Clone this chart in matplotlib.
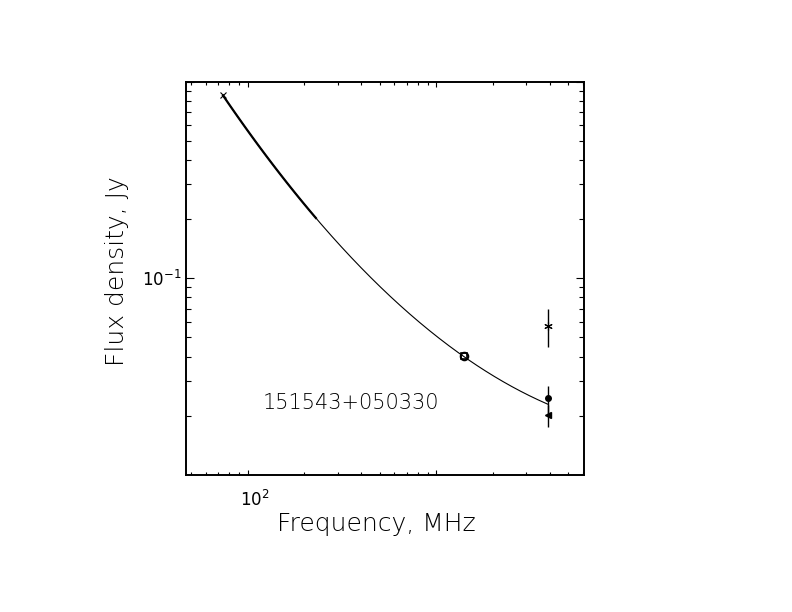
import numpy as np
import matplotlib.pyplot as plt
import matplotlib.transforms as mtransforms
from matplotlib.ticker import LogLocator, NullFormatter, FixedLocator, FixedFormatter

# ---- data ----
source_name = "151543+050330"

freq_x = [74.0]            # MHz, 'x' marker
flux_x = [0.85]            # Jy

freq_1400 = [1400.0]       # two overlapping open symbols
flux_1400 = [0.0404]

freq_star = [3900.0]
flux_star = [0.0572]
err_star = [0.0125]

freq_dot = [3900.0]
flux_dot = [0.0245]
err_dot = [0.0040]

freq_tri = [3900.0]
flux_tri = [0.0201]
err_tri = [0.0025]

# quadratic fit in log-log space: log S = c2*(log nu)^2 + c1*log nu + c0
fit_coef = [0.2877, -2.4823, 3.5639]
fit_range = [74.0, 3900.0]
fit_thick_range = [74.0, 230.0]

x_lim = [47.1, 6070.0]
y_lim = [0.01, 1.0]
x_major = [100.0, 1000.0]
x_major_labels = [r"$10^{2}$", ""]
y_major = [0.1, 1.0]
y_major_labels = [r"$10^{-1}$", ""]

# ---- figure ----
plt.rcParams['font.family'] = ['DejaVu Sans']
plt.rcParams['mathtext.fontset'] = 'dejavusans'

fig = plt.figure(figsize=(7.92, 6.12), dpi=100)
ax = fig.add_axes([186 / 792, 1 - 475 / 612, 398 / 792, 393.5 / 612])
ax.set_xscale('log')
ax.set_yscale('log')
ax.set_xlim(*x_lim)
ax.set_ylim(*y_lim)

# fitted curve
nu = np.geomspace(fit_range[0], fit_range[1], 300)
ax.plot(nu, 10 ** np.polyval(fit_coef, np.log10(nu)), color='black', lw=0.8)
nu_t = np.geomspace(fit_thick_range[0], fit_thick_range[1], 100)
ax.plot(nu_t, 10 ** np.polyval(fit_coef, np.log10(nu_t)), color='black', lw=1.6)

# points
ax.plot(freq_x, flux_x, linestyle='none', marker='x', ms=5, mew=0.8, color='black')
ax.plot(freq_1400, flux_1400, linestyle='none', marker='o', ms=5.5, mew=1.4,
        mfc='none', color='black')
ax.plot(freq_1400, flux_1400, linestyle='none', marker='s', ms=4.5, mew=1.2,
        mfc='none', color='black')
ax.errorbar(freq_star, flux_star, yerr=err_star, fmt='none', ecolor='black',
            elinewidth=1.0, capsize=0)
ax.plot(freq_star, flux_star, linestyle='none', marker=(6, 2, 0), ms=6, mew=0.8,
        color='black')
ax.errorbar(freq_dot, flux_dot, yerr=err_dot, fmt='o', ms=4, color='black',
            elinewidth=1.0, capsize=0)
ax.errorbar(freq_tri, flux_tri, yerr=err_tri, fmt='<', ms=5, color='black',
            elinewidth=1.0, capsize=0)

ax.text(351 / 792, 1 - 403 / 612, source_name, transform=fig.transFigure,
        ha='center', va='center', fontsize=15, fontweight='light')

# axes styling
for sp in ax.spines.values():
    sp.set_linewidth(1.4)

ax.xaxis.set_major_locator(FixedLocator(x_major))
ax.xaxis.set_major_formatter(FixedFormatter(x_major_labels))
ax.xaxis.set_minor_locator(LogLocator(base=10, subs=np.arange(2, 10)))
ax.xaxis.set_minor_formatter(NullFormatter())
ax.yaxis.set_major_locator(FixedLocator(y_major))
ax.yaxis.set_major_formatter(FixedFormatter(y_major_labels))
ax.yaxis.set_minor_locator(LogLocator(base=10, subs=np.arange(2, 10)))
ax.yaxis.set_minor_formatter(NullFormatter())

ax.tick_params(axis='both', which='both', direction='in', top=True, right=True,
               width=0.8, labelsize=12)
ax.tick_params(axis='x', which='major', length=3.6, pad=11)
ax.tick_params(axis='x', which='minor', length=2.4)
ax.tick_params(axis='y', which='major', length=5.8, pad=3)
ax.tick_params(axis='y', which='minor', length=3.4)

offset = mtransforms.ScaledTranslation(7 / 100, 0, fig.dpi_scale_trans)
for lab in ax.get_xticklabels():
    lab.set_transform(lab.get_transform() + offset)

fig.text(376 / 792, 1 - 524 / 612, "Frequency, MHz", ha='center', va='center',
         fontsize=18, fontweight='light')
fig.text(117 / 792, 1 - 271 / 612, "Flux density, Jy", ha='center', va='center',
         rotation=90, fontsize=18, fontweight='light')

fig.savefig("out.png", dpi=100, facecolor='white')
